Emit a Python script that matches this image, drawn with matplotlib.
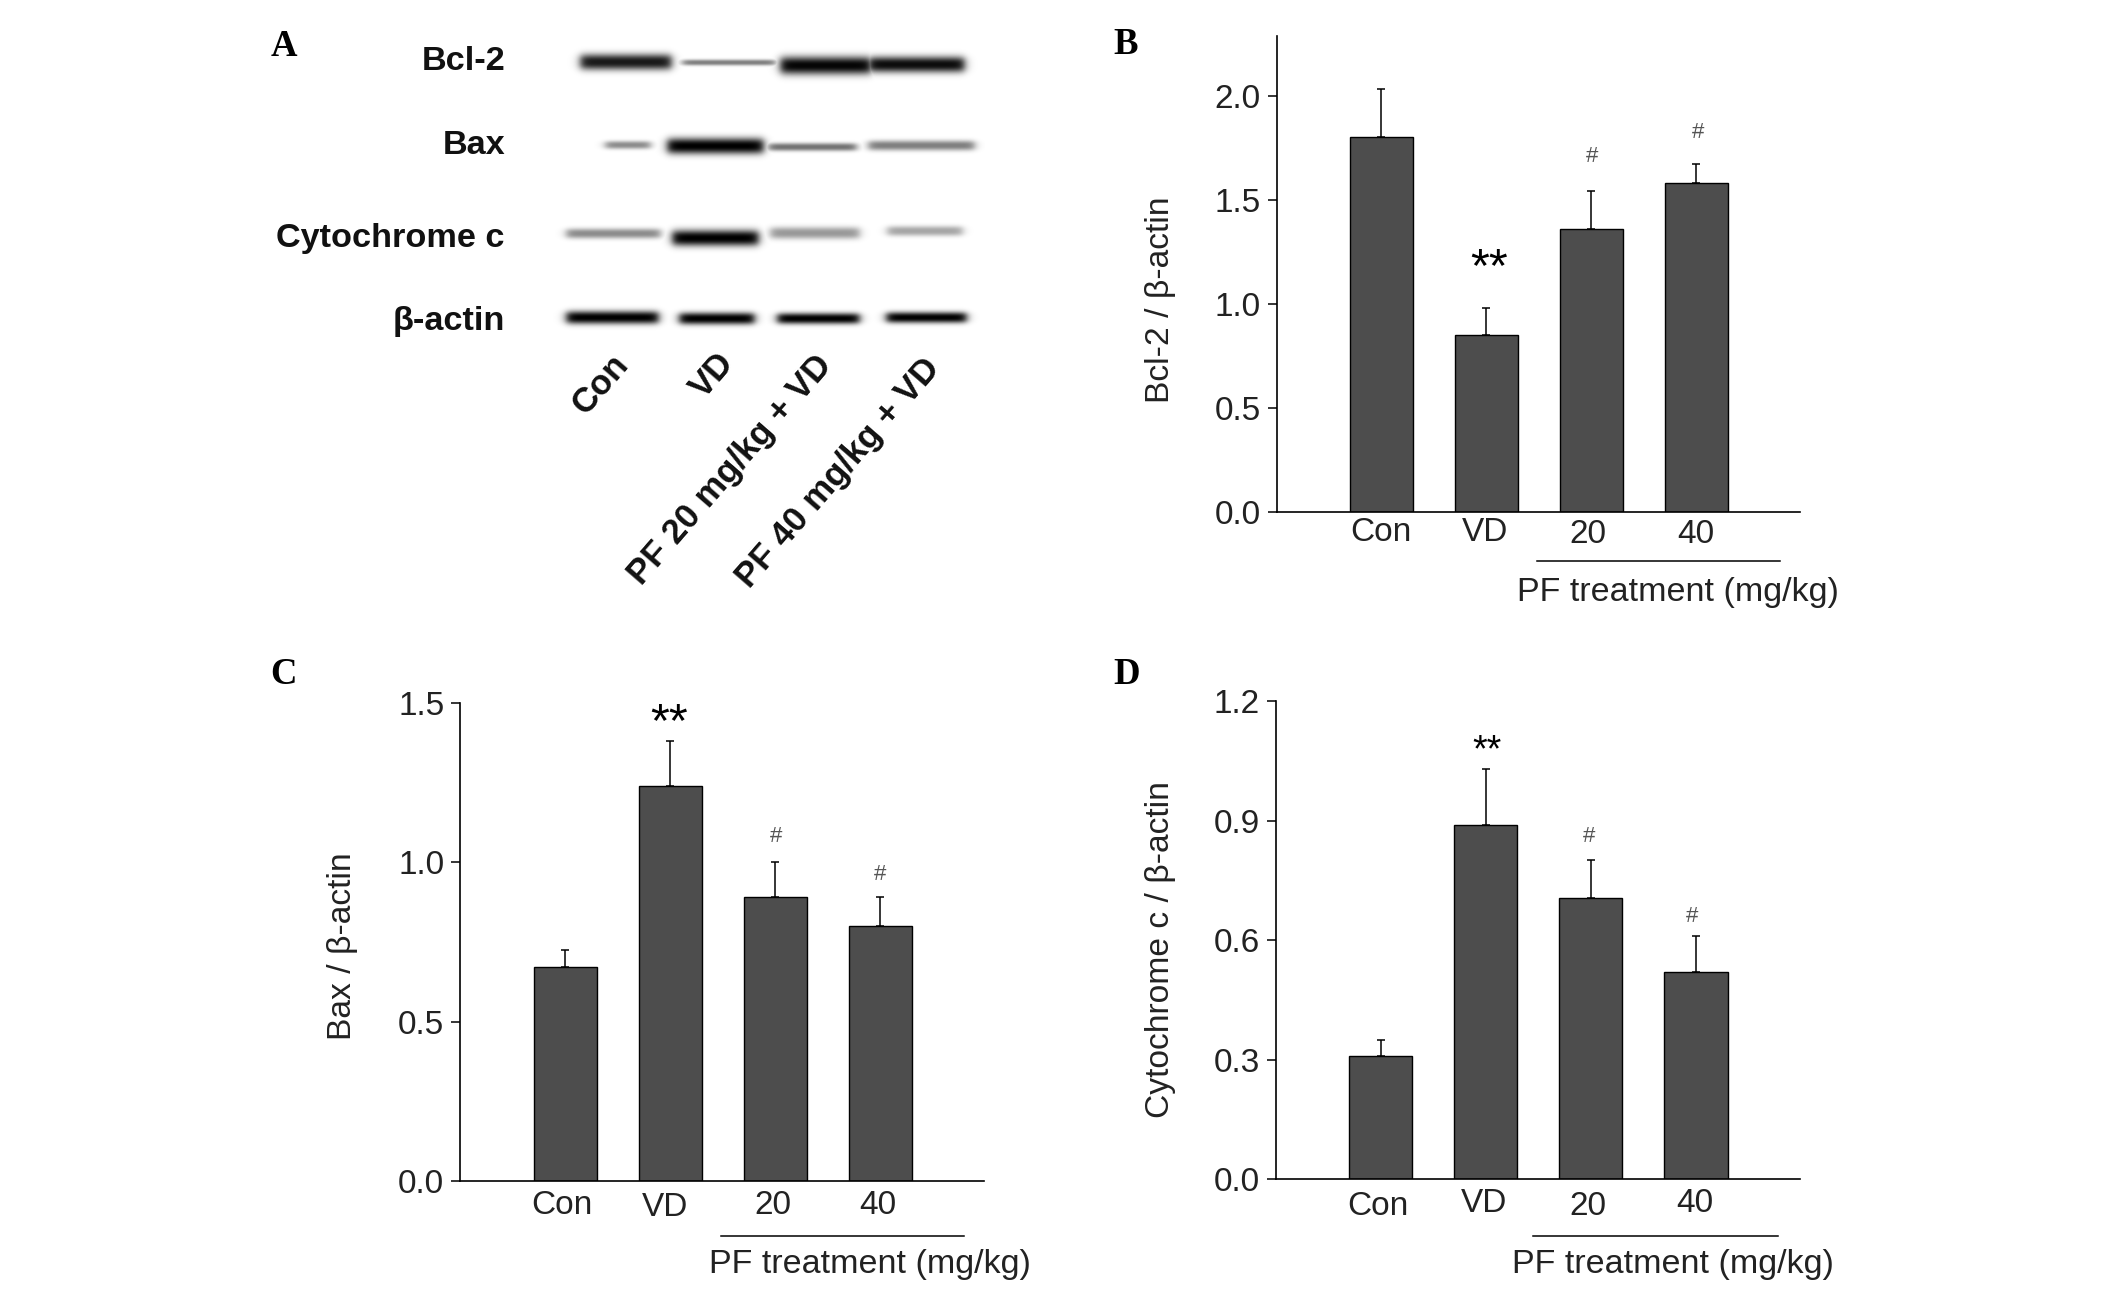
import numpy as np
import matplotlib
matplotlib.use("Agg")
import matplotlib.pyplot as plt

W = 2126
H = 1291

plt.rcParams['font.family'] = ['Liberation Sans', 'DejaVu Sans']

groups = ["Con", "VD", "20", "40"]
blot_names = ["Bcl-2", "Bax", "Cytochrome c", "β-actin"]
blot_lanes = ["Con", "VD", "PF 20 mg/kg + VD", "PF 40 mg/kg + VD"]

bcl2_vals = [1.80, 0.85, 1.36, 1.58]
bcl2_err = [0.23, 0.13, 0.18, 0.09]
bax_vals = [0.67, 1.24, 0.89, 0.80]
bax_err = [0.055, 0.14, 0.11, 0.09]
cyt_vals = [0.31, 0.89, 0.705, 0.52]
cyt_err = [0.04, 0.14, 0.095, 0.09]

# blot bands, one row per protein: left, right, centre, half height, darkness (reference pixels)
bcl2_bands = [(580, 671, 61.5, 8, 0.90), (682, 775, 62, 3, 0.50), (780, 871, 65, 9, 0.98), (868, 964, 64, 8, 0.95)]
bax_bands = [(605, 650, 144.5, 4, 0.45), (667, 763, 145.5, 8, 1.0), (768, 856, 146.5, 4, 0.55), (868, 974, 145, 5, 0.50)]
cyt_bands = [(566, 660, 233, 5, 0.45), (672, 758, 237.5, 8, 1.0), (770, 859, 232.5, 6, 0.40), (887, 962, 230.5, 5, 0.35)]
actin_bands = [(566, 658, 317, 6.5, 1.0), (679, 754, 318, 6, 1.0), (777, 859, 318, 5.5, 1.0), (886, 966, 317, 5.5, 1.0)]


def px_text(x, y, s, **kw):
    kw.setdefault("ha", "center")
    kw.setdefault("va", "center")
    return fig.text(x / W, 1 - y / H, s, **kw)


def px_axes(left, top, right, bottom):
    return fig.add_axes([left / W, 1 - bottom / H, (right - left) / W, (bottom - top) / H])


def draw_bars(box, vals, err, ymax, yticks, ylabel, label_xy, xlab_offsets, under, treat_xy, marks):
    left, top, right, bottom = box
    ax = px_axes(left, top, right, bottom)
    x = np.arange(len(vals))
    ax.bar(x, vals, width=0.6, color="#4d4d4d", edgecolor="black", linewidth=1.0)
    ax.errorbar(x, vals, yerr=[np.zeros(len(err)), err], fmt="none", ecolor="black",
                elinewidth=1.1, capsize=3, capthick=1.1)
    ax.set_xlim(-1, 3.99)
    ax.set_ylim(0, ymax)
    ax.set_yticks(yticks)
    ax.set_yticklabels(["%.1f" % t for t in yticks], fontsize=24, color="#222222")
    ax.set_xticks([])
    ax.tick_params(axis="y", length=6.5, width=1.1, pad=5)
    for side in ["top", "right"]:
        ax.spines[side].set_visible(False)
    for side in ["left", "bottom"]:
        ax.spines[side].set_linewidth(1.2)

    # group names sit slightly uneven under the axis in the original
    for i, g in enumerate(groups):
        ax.annotate(g, xy=(i, 0), xycoords="data", xytext=(xlab_offsets[i][0] * 0.72, -xlab_offsets[i][1] * 0.72),
                    textcoords="offset points", ha="center", va="center", fontsize=24, color="#222222")

    px_text(label_xy[0], label_xy[1], ylabel, rotation=90, fontsize=24.2, color="#222222")
    fig.add_artist(plt.Line2D([under[0] / W, under[1] / W], [1 - under[2] / H, 1 - under[2] / H],
                              color="black", linewidth=1.1))
    px_text(treat_xy[0], treat_xy[1], "PF treatment (mg/kg)", fontsize=24.5, color="#222222")
    for mx, my, s, size in marks:
        px_text(mx, my, s, fontsize=size, color="black" if s == "**" else "#555555")
    return ax


fig = plt.figure(figsize=(W / 100, H / 100), dpi=100)

# Panel A, the blot
bx0, by0, bx1, by1 = 550, 30, 985, 345
xx, yy = np.meshgrid(np.arange(bx0, bx1), np.arange(by0, by1))
dark = np.zeros(xx.shape)
for row in [bcl2_bands, bax_bands, cyt_bands, actin_bands]:
    for l, r, c, h, d in row:
        across = 0.5 * (np.tanh((xx - l) / 5) - np.tanh((xx - r) / 5))
        down = np.exp(-np.abs((yy - c) / h) ** 2.4)
        dark = np.maximum(dark, d * across * down)
ax_blot = px_axes(bx0, by0, bx1, by1)
ax_blot.imshow(1 - dark, cmap="gray", vmin=0, vmax=1, aspect="auto", interpolation="bilinear")
ax_blot.axis("off")

blot_y = [61.5, 145, 238, 321.5]
for name, y in zip(blot_names, blot_y):
    px_text(505, y, name, ha="right", fontsize=24.7, fontweight="bold", color="#111111")

lane_ends = [(610, 348), (716, 347), (814, 349), (922, 352)]
for name, (x, y) in zip(blot_lanes, lane_ends):
    px_text(x, y, name, ha="right", va="top", rotation=49, rotation_mode="anchor",
            fontsize=25, fontweight="bold", color="#111111")

for letter, x, y in [("A", 284, 47), ("B", 1126, 45), ("C", 284, 675), ("D", 1127, 675)]:
    px_text(x, y, letter, fontsize=26.5, fontweight="bold", family="Liberation Serif", color="black")

# Panels B, C, D
draw_bars((1276.5, 36, 1800, 512.4), bcl2_vals, bcl2_err, 2.286, [0, 0.5, 1.0, 1.5, 2.0],
          "Bcl-2 / β-actin", (1160, 300),
          [(-1, 20), (-1.5, 20), (-3, 22), (0, 22)],
          (1536.7, 1779.8, 560.7), (1678.4, 592.6),
          [(1489, 269, "**", 35), (1592, 157, "#", 16), (1697.6, 132, "#", 16)])

draw_bars((460.3, 703, 984.4, 1181), bax_vals, bax_err, 1.5, [0, 0.5, 1.0, 1.5],
          "Bax / β-actin", (343, 946),
          [(-3.6, 24), (-5, 27), (-2.6, 25), (-3, 25)],
          (720.8, 964, 1235.8), (870, 1265),
          [(668.7, 724, "**", 35), (776, 837, "#", 16), (880, 875, "#", 16)])

draw_bars((1275.8, 701, 1800, 1179.3), cyt_vals, cyt_err, 1.2, [0, 0.3, 0.6, 0.9, 1.2],
          "Cytochrome c / β-actin", (1160, 950),
          [(-2.6, 27), (-2, 24), (-3, 27), (-1, 24)],
          (1533, 1778, 1235.8), (1673.4, 1264),
          [(1486.7, 751, "**", 27), (1589, 837, "#", 16), (1691.6, 917, "#", 16)])

fig.savefig("out.png", dpi=100)
